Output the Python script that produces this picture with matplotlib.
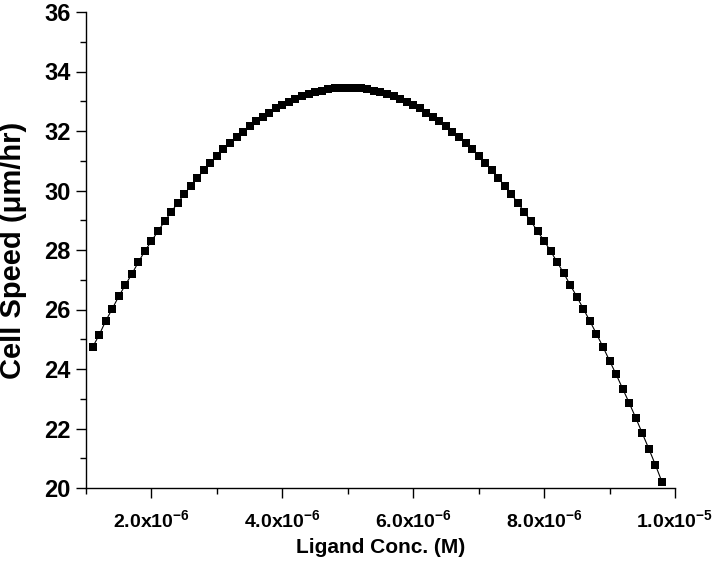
import matplotlib
matplotlib.use("Agg")
import matplotlib.pyplot as plt
from matplotlib.ticker import MultipleLocator, FixedLocator

plt.rcParams['font.family'] = ['Liberation Sans', 'DejaVu Sans']
plt.rcParams['font.weight'] = 'bold'
plt.rcParams['mathtext.fontset'] = 'custom'
plt.rcParams['mathtext.rm'] = 'Liberation Sans:bold'
plt.rcParams['mathtext.it'] = 'Liberation Sans:bold'
plt.rcParams['mathtext.bf'] = 'Liberation Sans:bold'
plt.rcParams['mathtext.default'] = 'rm'

# Ligand concentration (M), 1.1e-6 ... 9.8e-6 in steps of 0.1e-6
conc = [round(1.1e-6 + i * 0.1e-6, 9) for i in range(88)]

# Cell speed (um/hr)
speed = [
    24.73, 25.14, 25.61, 26.02, 26.44, 26.82, 27.19, 27.59, 27.97, 28.30,   # 1.1-2.0
    28.63, 28.96, 29.27, 29.58, 29.87, 30.15, 30.42, 30.68, 30.92, 31.16,   # 2.1-3.0
    31.38, 31.59, 31.79, 31.98, 32.16, 32.33, 32.48, 32.62, 32.76, 32.88,   # 3.1-4.0
    32.99, 33.08, 33.17, 33.24, 33.31, 33.36, 33.40, 33.43, 33.44, 33.45,   # 4.1-5.0
    33.44, 33.43, 33.40, 33.36, 33.31, 33.24, 33.17, 33.08, 32.99, 32.88,   # 5.1-6.0
    32.76, 32.62, 32.48, 32.33, 32.16, 31.98, 31.79, 31.59, 31.38, 31.16,   # 6.1-7.0
    30.92, 30.68, 30.42, 30.15, 29.87, 29.58, 29.27, 28.96, 28.63, 28.31,   # 7.1-8.0
    27.96, 27.59, 27.22, 26.82, 26.43, 26.02, 25.61, 25.18, 24.74, 24.28,   # 8.1-9.0
    23.82, 23.34, 22.86, 22.36, 21.84, 21.32, 20.78, 20.21,                 # 9.1-9.8
]

xticks = [2e-6, 4e-6, 6e-6, 8e-6, 1e-5]
xtick_labels = [r'2.0x10$^{-6}$', r'4.0x10$^{-6}$', r'6.0x10$^{-6}$',
                r'8.0x10$^{-6}$', r'1.0x10$^{-5}$']
yticks = [20, 22, 24, 26, 28, 30, 32, 34, 36]

fig = plt.figure(figsize=(7.2, 5.76), dpi=100)
ax = fig.add_axes([86/720, 1-488/576, (675-86)/720, (488-12)/576])

ax.plot(conc, speed, color='black', lw=0.8, marker='s', markersize=6,
        markerfacecolor='black', markeredgecolor='black', markeredgewidth=0)

ax.set_xlim(1e-6, 1e-5)
ax.set_ylim(20, 36)
ax.set_xticks(xticks)
ax.set_xticklabels(xtick_labels)
ax.xaxis.set_minor_locator(FixedLocator([1e-6, 3e-6, 5e-6, 7e-6, 9e-6]))
ax.set_yticks(yticks)
ax.yaxis.set_minor_locator(MultipleLocator(1))

for s in ['top', 'right']:
    ax.spines[s].set_visible(False)
for s in ['left', 'bottom']:
    ax.spines[s].set_linewidth(1.0)

ax.tick_params(axis='both', which='major', direction='out', length=7, width=1.0)
ax.tick_params(axis='both', which='minor', direction='out', length=4, width=1.0)
ax.tick_params(axis='y', which='major', labelsize=17, pad=4)
ax.tick_params(axis='x', which='major', labelsize=14, pad=8)

ax.set_xlabel('Ligand Conc. (M)', fontsize=15, fontweight='bold', labelpad=5)
ax.set_ylabel('Cell Speed (\u03bcm/hr)', fontsize=21, fontweight='bold')
ax.yaxis.set_label_coords(-0.100, 0.5)

fig.savefig('out.png', dpi=100)
